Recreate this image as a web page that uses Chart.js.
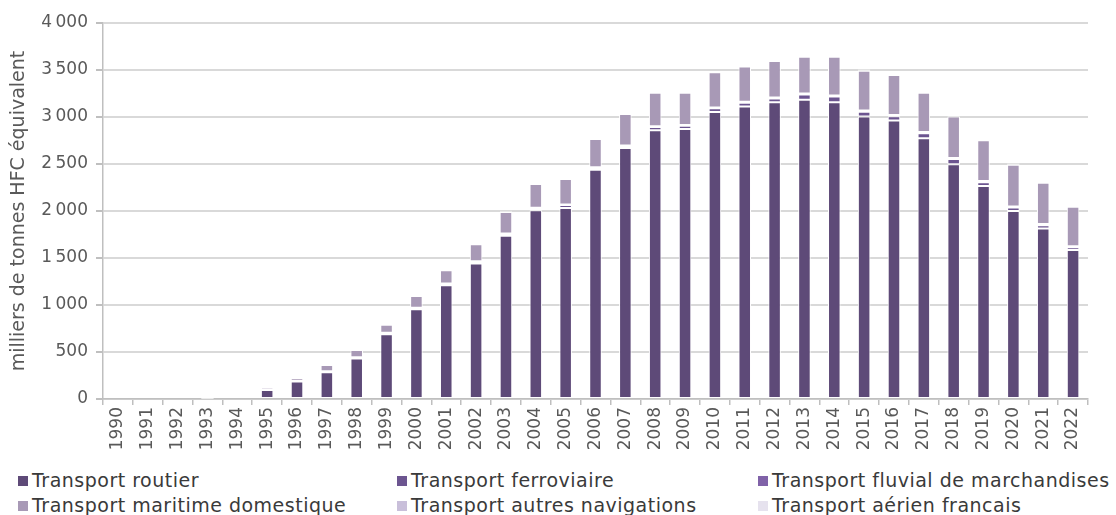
<!DOCTYPE html>
<html lang="fr">
<head>
<meta charset="utf-8">
<script src="https://cdn.jsdelivr.net/npm/chart.js@4/dist/chart.umd.min.js"></script>
<style>
  html, body { margin: 0; padding: 0; background: #fff; width: 1116px; height: 515px; overflow: hidden; }
  #wrap { position: relative; width: 1116px; height: 515px; }
  #c { position: absolute; left: 0; top: 0; }
  .leg { position: absolute; font-family: "DejaVu Sans", sans-serif; font-size: 19px; letter-spacing: 0.5px; color: #3a3a3a; white-space: nowrap; line-height: 22px; }
  .leg .sw { display: inline-block; width: 10px; height: 10px; margin-right: 4px; vertical-align: 1px; }
</style>
</head>
<body>
<div id="wrap">
  <canvas id="c" width="1116" height="462"></canvas>
  <div id="legend"></div>
</div>
<script>
const years = ["1990","1991","1992","1993","1994","1995","1996","1997","1998","1999","2000","2001","2002","2003","2004","2005","2006","2007","2008","2009","2010","2011","2012","2013","2014","2015","2016","2017","2018","2019","2020","2021","2022"];

const routier     = [0,0,0,2,30,95,185,285,432,690,955,1210,1442,1736,2008,2033,2440,2670,2858,2872,3052,3112,3158,3184,3158,3006,2964,2773,2497,2267,2001,1814,1584];
const ferroviaire = [0,0,0,0,2,4,6,8,10,12,14,15,20,20,22,30,20,22,35,35,40,40,40,55,60,50,45,55,55,40,35,35,30];
const fluvial     = [0,0,0,0,0,1,1,2,2,3,3,3,4,4,4,5,5,5,8,8,10,10,10,10,10,12,12,12,12,12,12,12,12];
const maritime    = [0,0,0,1,5,24,30,66,76,84,124,143,181,229,253,272,302,334,357,343,373,374,388,392,413,423,425,418,440,434,443,439,419];
const autresNav   = [0,0,0,1,2,3,4,5,5,6,6,6,7,7,7,7,8,8,8,8,8,8,8,8,8,8,8,8,8,8,8,8,8];
const aerien      = [0,0,0,8,4,6,6,6,6,6,6,6,6,6,6,6,6,6,6,6,6,6,6,6,6,6,6,6,6,6,6,6,6];

const seriesNames = ["Transport routier","Transport ferroviaire","Transport fluvial de marchandises","Transport maritime domestique","Transport autres navigations","Transport aérien francais"];
const yTicks = [0,500,1000,1500,2000,2500,3000,3500,4000];
const yTitle = "milliers de tonnes HFC équivalent";

const colors = ["#5E4A78","#6C5590","#8062A8","#A899B6","#C9BFDA","#E6E2EE"];
const seriesData = [routier, ferroviaire, fluvial, maritime, autresNav, aerien];

const datasets = seriesNames.map((n, i) => ({
  label: n,
  data: seriesData[i],
  backgroundColor: colors[i],
  borderColor: "#ffffff",
  borderWidth: 1,
  borderSkipped: false,
  barPercentage: 0.42,
  categoryPercentage: 1.0
}));

const fmt = v => {
  const s = String(v);
  return s.length > 3 ? s.slice(0, s.length - 3) + "\u202f" + s.slice(-3) : s;
};

new Chart(document.getElementById("c"), {
  type: "bar",
  data: { labels: years, datasets },
  options: {
    responsive: false,
    animation: false,
    devicePixelRatio: 1,
    layout: { padding: { top: 23, right: 28, left: 0, bottom: 0 } },
    plugins: { legend: { display: false }, tooltip: { enabled: false } },
    scales: {
      x: {
        stacked: true,
        grid: { offset: true, drawOnChartArea: false, drawTicks: true, tickLength: 6, color: "#BFBFBF", lineWidth: 1.5 },
        border: { display: true, color: "#BFBFBF", width: 1.5 },
        ticks: {
          autoSkip: false, maxRotation: 90, minRotation: 90, padding: 2,
          color: "#595959", font: { family: "DejaVu Sans", size: 17 }
        },
        afterFit: s => { s.height = 63; }
      },
      y: {
        stacked: true,
        min: 0, max: 4000,
        afterBuildTicks: s => { s.ticks = yTicks.map(v => ({ value: v })); },
        grid: { color: "#D9D9D9", lineWidth: 2, tickLength: 7, tickColor: "#BFBFBF" },
        border: { display: true, color: "#BFBFBF", width: 1.5 },
        ticks: { padding: 8, color: "#595959", font: { family: "DejaVu Sans", size: 17 }, callback: v => fmt(v) },
        title: { display: true, text: yTitle, color: "#595959", font: { family: "DejaVu Sans", size: 19 }, padding: { top: 8, bottom: 0 } },
        afterFit: s => { s.width = 103; }
      }
    }
  }
});

// legend (3 columns x 2 rows)
const legend = document.getElementById("legend");
const colX = [18, 397, 758];
const rowY = [469, 494];
seriesNames.forEach((n, i) => {
  const d = document.createElement("div");
  d.className = "leg";
  d.style.left = colX[i % 3] + "px";
  d.style.top = rowY[Math.floor(i / 3)] + "px";
  d.innerHTML = '<span class="sw" style="background:' + colors[i] + '"></span>' + n;
  legend.appendChild(d);
});
</script>
</body>
</html>
